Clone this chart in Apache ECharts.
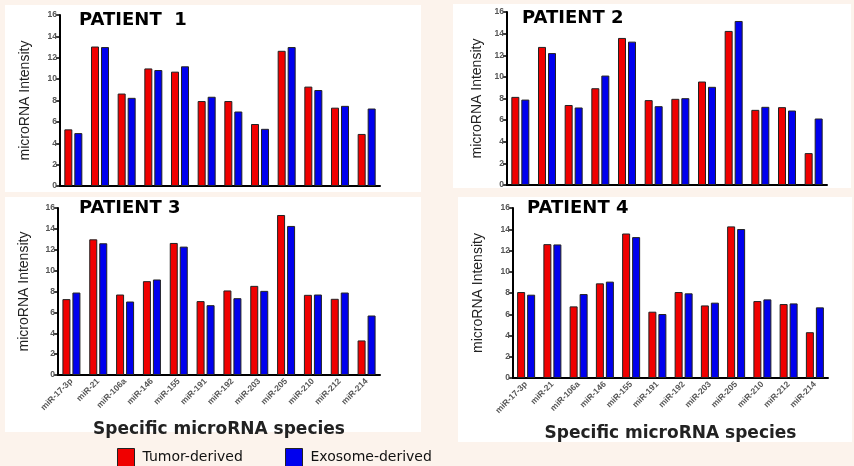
<!DOCTYPE html>
<html><head><meta charset="utf-8">
<script src="https://cdn.jsdelivr.net/npm/echarts@6/dist/echarts.min.js"></script>
<style>html,body{margin:0;padding:0;background:#fcf3ec;}#c{width:854px;height:466px;}</style>
</head><body><div id="c"></div>
<script>
const categories = ['miR-17-3p','miR-21','miR-106a','miR-146','miR-155','miR-191','miR-192','miR-203','miR-205','miR-210','miR-212','miR-214'];
const yTicks = [0,2,4,6,8,10,12,14,16];
const panelTitles = ['PATIENT  1','PATIENT 2','PATIENT 3','PATIENT 4'];
const seriesNames = ['Tumor-derived','Exosome-derived'];
const p1Tumor   = [5.3,13.05,8.65,11.0,10.7,7.95,7.95,5.8,12.65,9.3,7.33,4.87];
const p1Exosome = [4.95,13.0,8.25,10.85,11.2,8.35,6.97,5.35,13.0,8.98,7.5,7.25];
const p2Tumor   = [8.15,12.77,7.4,8.95,13.6,7.85,7.97,9.57,14.25,6.95,7.2,2.95];
const p2Exosome = [7.9,12.2,7.17,10.12,13.26,7.29,8.03,9.08,15.17,7.23,6.89,6.15];
const p3Tumor   = [7.27,13.0,7.71,8.99,12.65,7.08,8.1,8.54,15.33,7.68,7.3,3.31];
const p3Exosome = [7.9,12.62,7.04,9.15,12.3,6.69,7.36,8.06,14.28,7.71,7.9,5.7];
const p4Tumor   = [8.09,12.6,6.74,8.91,13.6,6.24,8.09,6.83,14.27,7.24,6.96,4.31];
const p4Exosome = [7.84,12.57,7.9,9.07,13.26,6.02,7.97,7.09,14.02,7.4,7.02,6.65];
const xAxisTitle = 'Specific microRNA species';
const yAxisTitle = 'microRNA Intensity';

const data = [[p1Tumor,p1Exosome],[p2Tumor,p2Exosome],[p3Tumor,p3Exosome],[p4Tumor,p4Exosome]];
const grids = [
  {left:60, right:474, top:15, bottom:280},
  {left:507, right:27, top:12, bottom:281},
  {left:58, right:474, top:208, bottom:91},
  {left:513, right:26, top:208, bottom:88}
];
const panels = [
  {x:5,y:5,w:416,h:187},
  {x:453,y:4,w:398,h:184},
  {x:5,y:197,w:416,h:235},
  {x:458,y:197,w:394,h:245}
];
const titlePos = [{left:79,top:11},{left:522,top:9},{left:79,top:199},{left:527,top:199}];
const yNameGap = [28,23,27,28];
const xNameGap = [50,50,46,47];
const colors = ['#f00000','#0000ee'];
const FONT = 'Liberation Sans, Arial, sans-serif';
const WIDE = 'DejaVu Sans, sans-serif';

const option = {
  backgroundColor:'#fcf3ec',
  animation:false,
  graphic: panels.map(p=>({type:'rect',shape:{x:p.x,y:p.y,width:p.w,height:p.h},style:{fill:'#ffffff'},z:-10})),
  title: panelTitles.map((t,i)=>({text:t,left:titlePos[i].left,top:titlePos[i].top,padding:0,
    textStyle:{fontFamily:WIDE,fontWeight:'bold',fontSize:18,color:'#000'}})),
  legend: seriesNames.map((n,i)=>({data:[n],left:i===0?117:285,top:448,padding:0,itemWidth:17,itemHeight:18,
    icon:'rect',itemStyle:{borderColor:'#222',borderWidth:1},
    textStyle:{fontFamily:WIDE,fontSize:14,color:'#111',padding:[0,0,0,3]}})),
  grid: grids,
  xAxis: grids.map((g,i)=>({type:'category',gridIndex:i,data:categories,
    axisLine:{lineStyle:{color:'#000',width:2}},axisTick:{show:false},
    axisLabel:{show:i>=2,rotate:45,fontSize:8.5,fontWeight:'bold',color:'#555',fontFamily:FONT,margin:5,interval:0},
    name:i>=2?xAxisTitle:'',nameLocation:'middle',nameGap:xNameGap[i],
    nameTextStyle:{fontFamily:WIDE,fontWeight:'bold',fontSize:17,color:'#222'}})),
  yAxis: grids.map((g,i)=>({type:'value',gridIndex:i,min:yTicks[0],max:yTicks[yTicks.length-1],interval:yTicks[1]-yTicks[0],
    axisLine:{show:true,lineStyle:{color:'#000',width:2}},
    axisTick:{show:true,length:4,lineStyle:{color:'#000',width:1.5}},
    splitLine:{show:false},
    axisLabel:{fontSize:8.5,fontWeight:'bold',color:'#555',fontFamily:FONT,margin:3},
    name:yAxisTitle,nameLocation:'middle',nameGap:yNameGap[i],nameRotate:90,
    nameTextStyle:{fontFamily:'Liberation Sans Narrow, Liberation Sans, Arial, sans-serif',fontSize:14,color:'#222'}})),
  series: []
};
data.forEach((pair,i)=>{
  pair.forEach((vals,j)=>{
    option.series.push({type:'bar',name:seriesNames[j],xAxisIndex:i,yAxisIndex:i,data:vals,
      barWidth:8,barGap:'25%',itemStyle:{color:colors[j],borderColor:'#222',borderWidth:1}});
  });
});
echarts.init(document.getElementById('c')).setOption(option);
</script></body></html>
